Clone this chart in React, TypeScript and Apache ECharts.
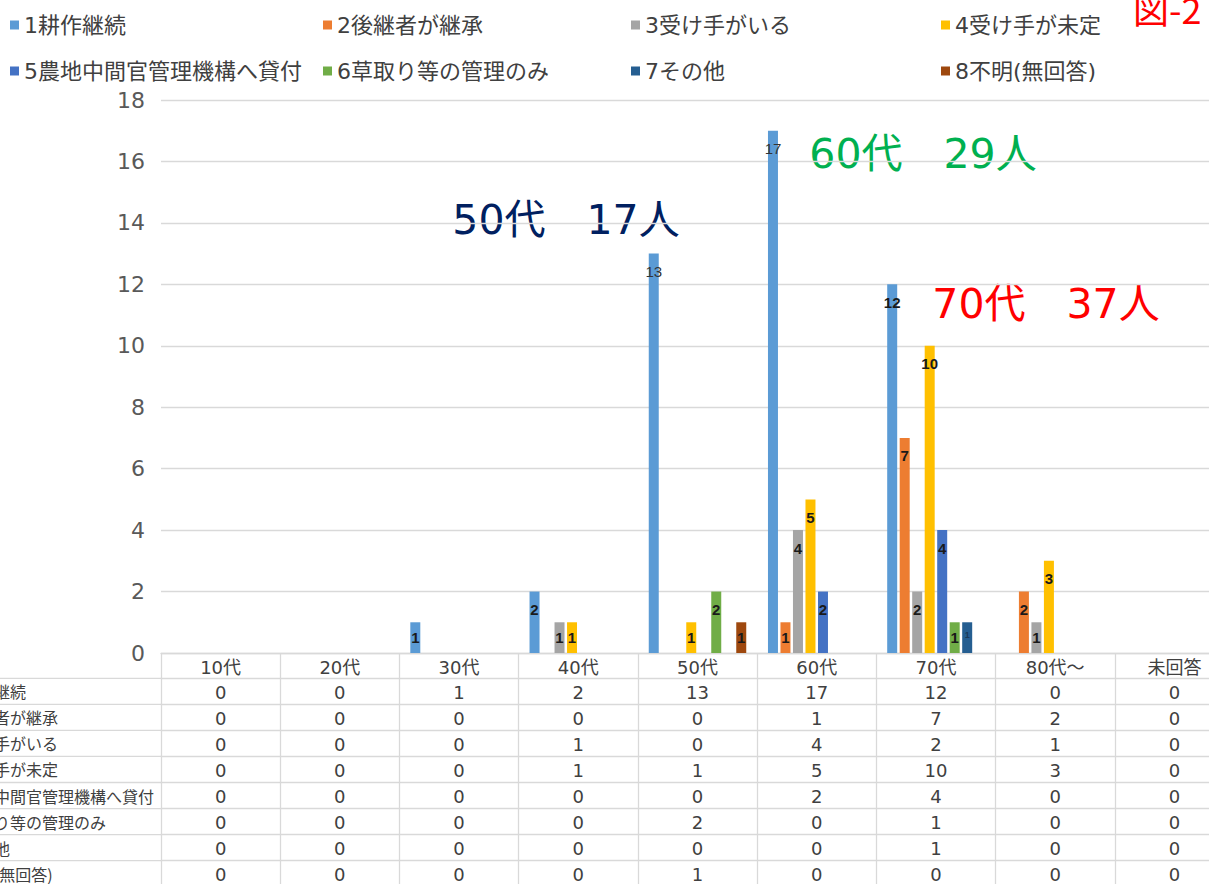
import React, { useEffect, useRef } from 'react';
import * as echarts from 'echarts';

// ---- data ----
const categories = ['10代', '20代', '30代', '40代', '50代', '60代', '70代', '80代〜', '未回答'];
const seriesNames = [
  '1耕作継続',
  '2後継者が継承',
  '3受け手がいる',
  '4受け手が未定',
  '5農地中間官管理機構へ貸付',
  '6草取り等の管理のみ',
  '7その他',
  '8不明(無回答)',
];
const s1 = [0, 0, 1, 2, 13, 17, 12, 0, 0];
const s2 = [0, 0, 0, 0, 0, 1, 7, 2, 0];
const s3 = [0, 0, 0, 1, 0, 4, 2, 1, 0];
const s4 = [0, 0, 0, 1, 1, 5, 10, 3, 0];
const s5 = [0, 0, 0, 0, 0, 2, 4, 0, 0];
const s6 = [0, 0, 0, 0, 2, 0, 1, 0, 0];
const s7 = [0, 0, 0, 0, 0, 0, 1, 0, 0];
const s8 = [0, 0, 0, 0, 1, 0, 0, 0, 0];
const seriesValues = [s1, s2, s3, s4, s5, s6, s7, s8];
const yMax = 18;
const yInterval = 2;
const annotations = [
  { text: '50代　17人', color: '#002060' },
  { text: '60代　29人', color: '#00b050' },
  { text: '70代　37人', color: '#ff0000' },
];
const figLabel = '図-2';

// ---- style / layout ----
const colors = ['#5b9bd5', '#ed7d31', '#a5a5a5', '#ffc000', '#4472c4', '#70ad47', '#255e91', '#9e480e'];
const JP = '"Noto Sans CJK JP", sans-serif';
const NUM = '"DejaVu Sans", "Noto Sans CJK JP", sans-serif';
const LAB = '"Liberation Sans", sans-serif';
const GRID_LEFT = 161;
const GRID_WIDTH = 1073;
const GRID_TOP = 100;
const AXIS_Y = 653;
const HEADER_H = 25.3;
const ROW_H = 26.05;
const LINE = '#d9d9d9';
const TEXT = '#404040';
const legendX = [10, 323, 631, 941];
const legendY = [14, 60];
const annoLayout = [
  { cx: 566, cy: 220, rx: 436, ry: 195, rw: 277, rh: 52 },
  { cx: 923, cy: 154, rx: 793, ry: 130, rw: 285, rh: 50 },
  { cx: 1046, cy: 304, rx: 915, ry: 278, rw: 277, rh: 52 },
];
const plainLabels = [[0, 4], [0, 5]];

function labelFor(si: number, ci: number, v: number) {
  const l: any = {};
  if (v === 1) l.distance = 8;
  if (plainLabels.some(([a, b]) => a === si && b === ci)) {
    l.fontWeight = 'normal';
    l.color = '#333333';
  }
  if (si === 6) {
    l.fontSize = 9;
    l.color = '#1c3a5a';
  }
  return l;
}

export default function App() {
  const ref = useRef<HTMLDivElement>(null);
  useEffect(() => {
    if (!ref.current) return;
    const chart = echarts.init(ref.current, undefined, { renderer: 'svg' });

    const grids: any[] = [
      { left: GRID_LEFT, width: GRID_WIDTH, top: GRID_TOP, height: AXIS_Y - GRID_TOP, containLabel: false, outerBoundsMode: 'none' },
    ];
    const xAxes: any[] = [
      {
        type: 'category',
        gridIndex: 0,
        data: categories,
        position: 'bottom',
        axisLine: { show: true, onZero: false, lineStyle: { color: LINE, width: 1.3 } },
        axisTick: { show: true, interval: 0, length: HEADER_H, alignWithLabel: false, lineStyle: { color: LINE, width: 1.3 } },
        axisLabel: { interval: 0, margin: 5, fontSize: 18, color: TEXT, fontFamily: NUM },
        splitLine: { show: false },
      },
    ];
    const yAxes: any[] = [
      {
        type: 'value',
        gridIndex: 0,
        min: 0,
        max: yMax,
        interval: yInterval,
        axisLine: { show: false },
        axisTick: { show: false },
        axisLabel: { fontSize: 22, color: '#595959', margin: 16, fontFamily: NUM },
        splitLine: { lineStyle: { color: LINE, width: 1.3 } },
      },
    ];
    const graphics: any[] = [];

    seriesValues.forEach((vals, i) => {
      const top = AXIS_Y + HEADER_H + i * ROW_H;
      grids.push({ left: GRID_LEFT, width: GRID_WIDTH, top, height: ROW_H, containLabel: false, outerBoundsMode: 'none' });
      xAxes.push({
        type: 'category',
        gridIndex: i + 1,
        data: categories,
        position: 'top',
        axisLine: { show: true, onZero: false, lineStyle: { color: LINE, width: 1.3 } },
        axisTick: { show: true, inside: true, interval: 0, length: ROW_H, alignWithLabel: false, lineStyle: { color: LINE, width: 1.3 } },
        axisLabel: {
          inside: true,
          interval: 0,
          margin: 5,
          fontSize: 18,
          color: TEXT,
          fontFamily: NUM,
          formatter: (_v: string, idx: number) => String(vals[idx]),
        },
        splitLine: { show: false },
      });
      yAxes.push({
        type: 'category',
        gridIndex: i + 1,
        data: [seriesNames[i]],
        axisLine: { show: false },
        axisTick: { show: false },
        axisLabel: { margin: 208, align: 'left', fontSize: 16, color: TEXT, fontFamily: JP },
        splitLine: { show: false },
      });
      graphics.push({
        type: 'line',
        shape: { x1: 0, y1: top, x2: GRID_LEFT, y2: top },
        style: { stroke: LINE, lineWidth: 1.3 },
      });
    });

    annotations.forEach((a, i) => {
      const L = annoLayout[i];
      graphics.push({
        type: 'group',
        z: 20,
        children: [
          { type: 'rect', shape: { x: L.rx, y: L.ry, width: L.rw, height: L.rh }, style: { fill: '#ffffff' } },
          {
            type: 'text',
            x: L.cx,
            y: L.cy,
            style: { text: a.text, fill: a.color, fontSize: 41, fontFamily: NUM, align: 'center', verticalAlign: 'middle' },
          },
        ],
      });
    });
    graphics.push({
      type: 'text',
      x: 1133,
      y: 8,
      z: 20,
      style: { text: figLabel, fill: '#ff0000', fontSize: 36, fontFamily: JP, align: 'left', verticalAlign: 'middle' },
    });

    const option: any = {
      animation: false,
      backgroundColor: '#ffffff',
      grid: grids,
      xAxis: xAxes,
      yAxis: yAxes,
      legend: seriesNames.map((n, i) => ({
        data: [n],
        left: legendX[i % 4],
        top: legendY[Math.floor(i / 4)],
        padding: 0,
        itemWidth: 9,
        itemHeight: 9,
        icon: 'rect',
        selectedMode: false,
        textStyle: { fontSize: 22, color: TEXT, fontFamily: NUM },
      })),
      graphic: graphics,
      series: seriesValues.map((vals, si) => ({
        type: 'bar',
        name: seriesNames[si],
        xAxisIndex: 0,
        yAxisIndex: 0,
        barWidth: 10,
        barGap: '25%',
        itemStyle: { color: colors[si] },
        label: {
          show: true,
          position: 'insideTop',
          distance: 10.5,
          fontSize: 15,
          fontWeight: 'bold',
          color: '#1a1a1a',
          fontFamily: LAB,
          formatter: (p: any) => (p.value > 0 ? String(p.value) : ''),
        },
        data: vals.map((v, ci) => ({ value: v, label: labelFor(si, ci, v) })),
      })),
    };
    chart.setOption(option);
    return () => chart.dispose();
  }, []);

  return (
    <div
      ref={ref}
      style={{ position: 'fixed', left: 0, top: 0, width: 1209, height: 884, background: '#ffffff' }}
    />
  );
}
